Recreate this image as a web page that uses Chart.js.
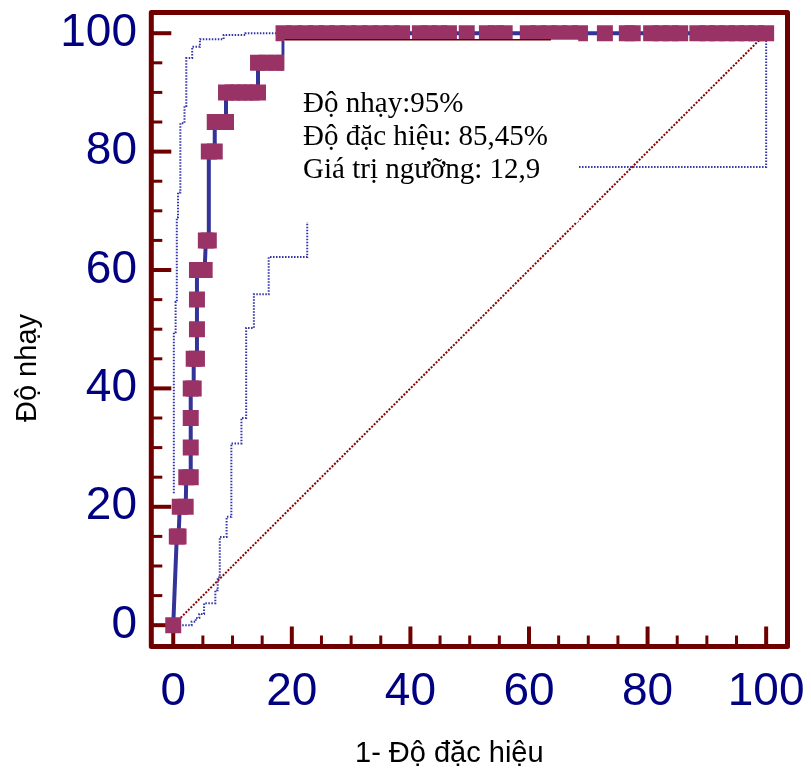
<!DOCTYPE html>
<html>
<head>
<meta charset="utf-8">
<script src="https://cdn.jsdelivr.net/npm/chart.js@4.4.1/dist/chart.umd.min.js"></script>
<style>
  html, body { margin: 0; padding: 0; background: #fff; }
  #rocChart { display: block; }
</style>
</head>
<body>
<canvas id="rocChart" width="811" height="770"></canvas>
<script>
// ROC curve: x = 1 - specificity (%), y = sensitivity (%)
const rocX = [0, 0.6, 0.9, 1.1, 2.1, 2.2, 2.95, 2.95, 2.95, 2.95, 3.45, 3.45, 4.0, 4.0, 4.0, 4.0, 4.65, 5.3,
  5.5, 6.0, 6.0, 7.0, 7.0, 7.9, 8.9, 8.9, 10.0, 11.0, 12.1, 13.2, 14.3, 14.3, 15.7, 17.2, 18.6,
  18.6, 20.4, 22.3, 24.1, 25.9, 27.7, 29.5, 31.4, 33.2, 35.0, 36.8, 38.6, 41.6, 43.2, 44.9, 46.5, 49.5,
  52.9, 54.4, 55.9, 59.8, 61.6, 63.4, 65.1, 66.9, 68.6, 72.8, 76.5, 77.5, 80.6, 82.3, 83.9, 85.5,
  88.4, 90.1, 91.7, 93.4, 95.0, 96.7, 98.3, 100];
const rocY = [0, 15, 15, 20, 20, 25, 25, 30, 35, 40, 40, 45, 45, 50, 55, 60, 60, 60,
  65, 65, 80, 80, 85, 85, 85, 90, 90, 90, 90, 90, 90, 95, 95, 95, 95,
  100, 100, 100, 100, 100, 100, 100, 100, 100, 100, 100, 100, 100, 100, 100, 100, 100,
  100, 100, 100, 100, 100, 100, 100, 100, 100, 100, 100, 100, 100, 100, 100, 100,
  100, 100, 100, 100, 100, 100, 100, 100];

// 95% confidence bounds
const upperCiX = [0.1, 0.1, 0.4, 0.4, 0.6, 0.6, 0.8, 0.8, 1.2, 1.2, 1.9, 1.9, 2.2, 2.2, 3.2, 3.2, 4.5, 4.5, 8.5, 8.5, 12.2, 12.2, 100];
const upperCiY = [22.3, 49.5, 49.5, 54.6, 54.6, 68.9, 68.9, 73.1, 73.1, 84.8, 84.8, 87.7, 87.7, 95.8, 95.8, 97.7, 97.7, 99.0, 99.0, 99.7, 99.7, 100, 100];
const lowerCiX = [0, 3.1, 3.1, 3.8, 3.8, 4.4, 4.4, 5.2, 5.2, 7.1, 7.1, 7.5, 7.5, 7.85, 7.85, 9.0, 9.0, 9.8, 9.8, 11.5, 11.5,
  12.3, 12.3, 13.6, 13.6, 16.1, 16.1, 22.6, 22.6, 40, 40, 100, 100];
const lowerCiY = [0, 0, 0.6, 0.6, 1.2, 1.2, 1.9, 1.9, 3.7, 3.7, 5.9, 5.9, 8.1, 8.1, 14.9, 14.9, 18.3, 18.3, 30.7, 30.7, 35.0,
  35.0, 50.2, 50.2, 55.9, 55.9, 62.2, 62.2, 70.5, 70.5, 77.4, 77.4, 100];

// reference diagonal
const diagX = [0, 100];
const diagY = [0, 100];

const tickValues = [0, 20, 40, 60, 80, 100];
const minorTickValues = [5, 10, 15, 25, 30, 35, 45, 50, 55, 65, 70, 75, 85, 90, 95];

const xTitle = '1- Độ đặc hiệu';
const yTitle = 'Độ nhạy';
const infoLines = ['Độ nhạy:95%', 'Độ đặc hiệu: 85,45%', 'Giá trị ngưỡng: 12,9'];

const axisColor = '#6e0000';
const labelColor = '#000080';
const sansFont = '"Liberation Sans", Arial, sans-serif';

const toPoints = (xs, ys) => xs.map((v, i) => ({ x: v, y: ys[i] }));

// ticks pointing inward, box frame, info box and axis titles
const framePlugin = {
  id: 'frame',
  beforeDatasetsDraw(chart) {
    const { ctx, chartArea: a, scales: { x, y } } = chart;
    ctx.save();
    ctx.strokeStyle = axisColor;
    const tick = (vals, len, w) => {
      ctx.lineWidth = w;
      vals.forEach(v => {
        const px = x.getPixelForValue(v);
        ctx.beginPath();
        ctx.moveTo(px, a.bottom);
        ctx.lineTo(px, a.bottom - len);
        ctx.stroke();
        const py = y.getPixelForValue(v);
        ctx.beginPath();
        ctx.moveTo(a.left, py);
        ctx.lineTo(a.left + len, py);
        ctx.stroke();
      });
    };
    tick(tickValues, 20, 4);
    tick(minorTickValues, 11, 3);
    ctx.lineWidth = 5;
    ctx.lineJoin = 'round';
    ctx.strokeRect(a.left, a.top, a.right - a.left, a.bottom - a.top);

    // axis titles
    ctx.fillStyle = '#000';
    ctx.font = '29px ' + sansFont;
    ctx.textAlign = 'left';
    ctx.textBaseline = 'alphabetic';
    ctx.fillText(xTitle, 355, 762);
    ctx.translate(36, 368);
    ctx.rotate(-Math.PI / 2);
    ctx.textAlign = 'center';
    ctx.fillText(yTitle, 0, 0);
    ctx.restore();
  },
  afterDatasetsDraw(chart) {
    const { ctx, scales: { x, y } } = chart;
    const left = x.getPixelForValue(18.75);
    const right = x.getPixelForValue(68.3);
    const top = y.getPixelForValue(98.9);
    const bottom = y.getPixelForValue(68.1);
    ctx.save();
    ctx.fillStyle = '#fff';
    ctx.fillRect(left, top, right - left, bottom - top);
    ctx.strokeStyle = axisColor;
    ctx.lineWidth = 1.5;
    ctx.beginPath();
    ctx.moveTo(left, top);
    ctx.lineTo(x.getPixelForValue(63.7), top);
    ctx.stroke();
    ctx.fillStyle = '#000';
    ctx.font = '29px "Liberation Serif", "Times New Roman", serif';
    ctx.textBaseline = 'alphabetic';
    ctx.textAlign = 'left';
    const tx = x.getPixelForValue(21.9);
    const ty = y.getPixelForValue(86.7);
    infoLines.forEach((t, i) => ctx.fillText(t, tx, ty + i * 33));
    ctx.restore();
  }
};

const fixTicks = scale => { scale.ticks = tickValues.map(v => ({ value: v })); };
const noPad = scale => {
  scale.paddingTop = 0; scale.paddingBottom = 0;
  scale.paddingLeft = 0; scale.paddingRight = 0;
};

new Chart(document.getElementById('rocChart'), {
  type: 'scatter',
  data: {
    datasets: [
      {
        label: 'ROC',
        data: toPoints(rocX, rocY),
        showLine: true,
        borderColor: '#333399',
        borderWidth: 4,
        tension: 0,
        pointStyle: 'rect',
        pointRadius: 11.3,
        pointHoverRadius: 11.3,
        pointBackgroundColor: '#993366',
        pointBorderWidth: 0
      },
      {
        label: 'Upper CI',
        data: toPoints(upperCiX, upperCiY),
        showLine: true,
        borderColor: '#3333aa',
        borderWidth: 2,
        borderDash: [1.5, 1.5],
        pointRadius: 0
      },
      {
        label: 'Lower CI',
        data: toPoints(lowerCiX, lowerCiY),
        showLine: true,
        borderColor: '#3333aa',
        borderWidth: 2,
        borderDash: [1.5, 1.5],
        pointRadius: 0
      },
      {
        label: 'Diagonal',
        data: toPoints(diagX, diagY),
        showLine: true,
        borderColor: '#8b0000',
        borderWidth: 2,
        borderDash: [2, 1.5],
        pointRadius: 0
      }
    ]
  },
  options: {
    responsive: false,
    animation: false,
    layout: { padding: { top: 12.5, right: 23.5, bottom: 0, left: 0 } },
    plugins: { legend: { display: false }, tooltip: { enabled: false } },
    scales: {
      x: {
        type: 'linear',
        min: -3.7,
        max: 103.6,
        afterBuildTicks: fixTicks,
        afterFit: scale => { scale.height = 123.5; noPad(scale); },
        grid: { display: false, drawTicks: false },
        border: { display: false },
        ticks: {
          padding: 18,
          autoSkip: false,
          maxRotation: 0,
          color: labelColor,
          font: { family: sansFont, size: 46 }
        }
      },
      y: {
        type: 'linear',
        min: -3.6,
        max: 103.5,
        afterBuildTicks: fixTicks,
        afterFit: scale => { scale.width = 151.3; noPad(scale); },
        grid: { display: false, drawTicks: false },
        border: { display: false },
        ticks: {
          padding: 14.3,
          autoSkip: false,
          color: labelColor,
          font: { family: sansFont, size: 46 }
        }
      }
    }
  },
  plugins: [framePlugin]
});
</script>
</body>
</html>
